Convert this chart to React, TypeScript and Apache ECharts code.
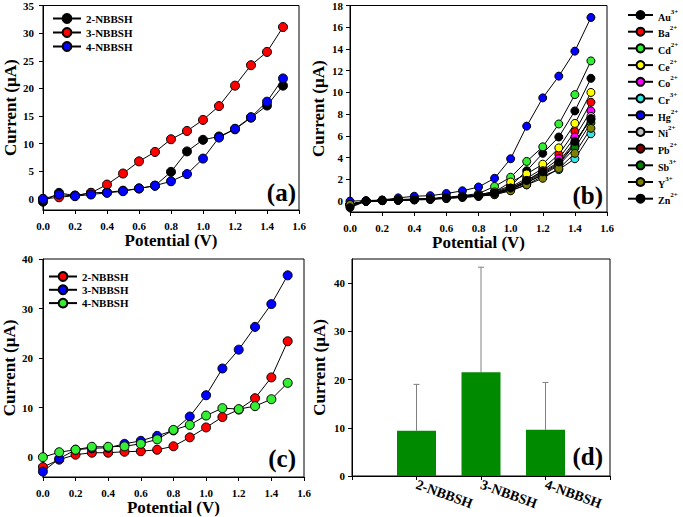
import React, { useEffect, useRef } from 'react';
import * as echarts from 'echarts';

const potentials = [0.0, 0.1, 0.2, 0.3, 0.4, 0.5, 0.6, 0.7, 0.8, 0.9, 1.0, 1.1, 1.2, 1.3, 1.4, 1.5];

// Panel (a)
const aNames = ['2-NBBSH', '3-NBBSH', '4-NBBSH'];
const aColors = ['#000000', '#ff0000', '#0000ff'];
const a2NBBSH = [-0.5, 1.1, 0.6, 1.1, 1.2, 1.5, 1.9, 2.4, 4.9, 8.6, 10.7, 11.3, 12.6, 14.7, 16.9, 20.5];
const a3NBBSH = [0.0, 0.3, 0.6, 1.1, 2.6, 4.6, 6.8, 8.5, 10.8, 12.3, 14.3, 16.8, 20.5, 24.2, 26.6, 31.1];
const a4NBBSH = [0.0, 0.8, 0.5, 0.8, 1.1, 1.4, 1.9, 2.4, 3.2, 4.5, 7.3, 11.1, 12.7, 14.8, 17.6, 21.8];
const aTicks = [0, 5, 10, 15, 20, 25, 30, 35];

// Panel (b)
const ionBases = ['Au', 'Ba', 'Cd', 'Ce', 'Co', 'Cr', 'Hg', 'Ni', 'Pb', 'Sb', 'Y', 'Zn'];
const ionCharges = ['3+', '2+', '2+', '2+', '2+', '3+', '2+', '2+', '2+', '3+', '3+', '2+'];
const ionColors = ['#000000', '#ff0000', '#33ee33', '#ffff00', '#ff00ff', '#33e6e6', '#0000ff', '#c0c0c0', '#800000', '#008000', '#808000', '#000000'];
const bAu = [-0.5, 0.0, 0.05, 0.1, 0.15, 0.2, 0.3, 0.4, 0.55, 0.9, 1.4, 2.8, 4.4, 5.9, 8.3, 11.3];
const bBa = [-0.3, 0.0, 0.05, 0.1, 0.15, 0.2, 0.3, 0.4, 0.5, 0.8, 1.3, 2.1, 3.0, 4.3, 6.4, 9.1];
const bCd = [-0.3, 0.0, 0.1, 0.15, 0.2, 0.25, 0.35, 0.5, 0.7, 1.35, 2.2, 3.65, 5.0, 7.1, 9.8, 12.9];
const bCe = [-0.3, 0.0, 0.05, 0.1, 0.15, 0.2, 0.3, 0.45, 0.6, 0.85, 1.75, 2.5, 3.4, 4.9, 7.15, 10.0];
const bCo = [-0.3, 0.0, 0.05, 0.1, 0.15, 0.2, 0.3, 0.4, 0.5, 0.75, 1.2, 1.9, 2.8, 3.9, 5.9, 8.3];
const bCr = [-0.3, 0.0, 0.05, 0.1, 0.1, 0.15, 0.25, 0.35, 0.45, 0.6, 1.0, 1.5, 2.3, 2.9, 3.9, 6.2];
const bHg = [0.0, 0.05, 0.1, 0.3, 0.45, 0.5, 0.7, 0.95, 1.3, 2.1, 3.9, 6.9, 9.5, 11.5, 13.8, 16.9];
const bNi = [-0.3, 0.0, 0.05, 0.1, 0.15, 0.2, 0.3, 0.4, 0.5, 0.7, 1.1, 1.7, 2.5, 3.4, 5.2, 7.8];
const bPb = [-0.4, 0.0, 0.05, 0.1, 0.15, 0.2, 0.3, 0.4, 0.5, 0.7, 1.1, 1.8, 2.6, 3.5, 5.3, 7.6];
const bSb = [-0.3, 0.0, 0.05, 0.1, 0.15, 0.2, 0.3, 0.4, 0.5, 0.65, 1.05, 1.7, 2.4, 3.3, 4.9, 7.2];
const bY = [-0.3, 0.0, 0.05, 0.1, 0.15, 0.2, 0.3, 0.4, 0.45, 0.6, 0.95, 1.5, 2.1, 3.0, 4.4, 6.7];
const bZn = [-0.6, 0.0, 0.05, 0.1, 0.15, 0.2, 0.25, 0.35, 0.45, 0.7, 1.2, 1.9, 2.7, 3.6, 5.5, 7.5];
const bSeries = [bAu, bBa, bCd, bCe, bCo, bCr, bHg, bNi, bPb, bSb, bY, bZn];
const bTicks = [0, 2, 4, 6, 8, 10, 12, 14, 16, 18];

// Panel (c)
const cNames = ['2-NBBSH', '3-NBBSH', '4-NBBSH'];
const cColors = ['#ff0000', '#0000ff', '#33ee33'];
const c2NBBSH = [-2.0, -0.5, 0.5, 0.9, 0.9, 1.1, 1.2, 1.5, 2.2, 4.0, 6.0, 8.1, 9.6, 11.9, 16.1, 23.4];
const c3NBBSH = [-2.9, -0.3, 1.5, 1.8, 1.9, 2.7, 3.3, 4.3, 5.4, 8.2, 12.5, 17.9, 21.7, 26.3, 30.9, 36.7];
const c4NBBSH = [0.0, 1.0, 1.5, 2.1, 2.1, 2.2, 2.7, 3.6, 5.5, 6.5, 8.4, 9.9, 9.7, 10.3, 11.7, 15.0];
const cTicks = [0, 10, 20, 30, 40];

// Panel (d)
const dCategories = ['2-NBBSH', '3-NBBSH', '4-NBBSH'];
const dMeans = [9.4, 21.5, 9.6];
const dUpper = [19.0, 43.3, 19.4];
const dTicks = [0, 10, 20, 30, 40];

const FONT = "'Liberation Serif', 'Times New Roman', serif";

function pairs(vals: number[]) {
  return potentials.map((p, i) => [p, vals[i]]);
}

function xAxisCfg(gridIndex: number) {
  return {
    type: 'value',
    gridIndex,
    min: 0,
    max: 1.6,
    interval: 0.2,
    name: 'Potential (V)',
    nameLocation: 'middle',
    nameGap: 22,
    nameTextStyle: { fontFamily: FONT, fontWeight: 'bold', fontSize: 17, color: '#000' },
    axisLine: { show: true, onZero: false, lineStyle: { color: '#000', width: 1 } },
    axisTick: { show: true, inside: false, length: 4, lineStyle: { color: '#000' } },
    axisLabel: {
      margin: 10,
      fontFamily: FONT,
      fontWeight: 'bold',
      fontSize: 11,
      color: '#000',
      formatter: (v: number) => v.toFixed(1),
    },
    splitLine: { show: false },
  };
}

function yAxisCfg(gridIndex: number, min: number, max: number, ticks: number[], nameGap: number, margin: number) {
  return {
    type: 'value',
    gridIndex,
    min,
    max,
    name: 'Current (μA)',
    nameLocation: 'middle',
    nameGap,
    nameTextStyle: { fontFamily: FONT, fontWeight: 'bold', fontSize: 17, color: '#000' },
    axisLine: { show: true, onZero: false, lineStyle: { color: '#000', width: 1 } },
    axisTick: { show: true, inside: false, length: 4, customValues: ticks, lineStyle: { color: '#000' } },
    axisLabel: {
      customValues: ticks,
      margin,
      fontFamily: FONT,
      fontWeight: 'bold',
      fontSize: 11,
      color: '#000',
    },
    splitLine: { show: false },
  };
}

function lineSeries(name: string, color: string, vals: number[], axisIndex: number, size: number) {
  return {
    type: 'line',
    name,
    xAxisIndex: axisIndex,
    yAxisIndex: axisIndex,
    data: pairs(vals),
    symbol: 'circle',
    symbolSize: size,
    itemStyle: { color, borderColor: '#000', borderWidth: 1 },
    lineStyle: { color: '#000', width: 1 },
    emphasis: { disabled: true },
  };
}

export default function App() {
  const ref = useRef<HTMLDivElement>(null);

  useEffect(() => {
    if (!ref.current) return;
    const chart = echarts.init(ref.current, null, { renderer: 'svg' });

    const gridStyle = { show: true, borderColor: '#000', borderWidth: 1, backgroundColor: 'transparent' };

    const series: any[] = [];
    [a2NBBSH, a3NBBSH, a4NBBSH].forEach((vals, i) => series.push(lineSeries(aNames[i], aColors[i], vals, 0, 9)));
    bSeries.forEach((vals, i) => series.push(lineSeries(ionBases[i] + ionCharges[i], ionColors[i], vals, 1, 8)));
    [c2NBBSH, c3NBBSH, c4NBBSH].forEach((vals, i) => series.push(lineSeries('c:' + cNames[i], cColors[i], vals, 2, 9)));

    series.push({
      type: 'bar',
      name: 'mean',
      xAxisIndex: 3,
      yAxisIndex: 3,
      data: dMeans.map((v, i) => [i + 1, v]),
      barWidth: 39,
      itemStyle: { color: '#008a00' },
      emphasis: { disabled: true },
    });
    series.push({
      type: 'custom',
      name: 'err',
      xAxisIndex: 3,
      yAxisIndex: 3,
      data: dMeans.map((v, i) => [i + 1, v, dUpper[i]]),
      encode: { x: 0, y: [1, 2] },
      z: 1,
      renderItem: (params: any, api: any) => {
        const x = api.value(0);
        const lo = api.coord([x, api.value(1)]);
        const hi = api.coord([x, api.value(2)]);
        const st = { stroke: '#808080', lineWidth: 1 };
        return {
          type: 'group',
          children: [
            { type: 'line', shape: { x1: lo[0], y1: lo[1], x2: hi[0], y2: hi[1] }, style: st },
            { type: 'line', shape: { x1: hi[0] - 3, y1: hi[1], x2: hi[0] + 3, y2: hi[1] }, style: st },
          ],
        };
      },
    });

    const legendText = { fontFamily: FONT, fontWeight: 'bold', fontSize: 11, color: '#000' };

    const option: any = {
      animation: false,
      backgroundColor: '#ffffff',
      grid: [
        { left: 43, top: 4, width: 256, height: 206, ...gridStyle },
        { left: 350, top: 4, width: 257, height: 208, ...gridStyle },
        { left: 38, top: 259, width: 266, height: 218, ...gridStyle },
        { left: 352, top: 259, width: 258, height: 217, ...gridStyle },
      ],
      xAxis: [
        xAxisCfg(0),
        xAxisCfg(1),
        xAxisCfg(2),
        {
          type: 'value',
          gridIndex: 3,
          min: 0,
          max: 4,
          interval: 1,
          axisLine: { show: true, onZero: false, lineStyle: { color: '#000', width: 1 } },
          axisTick: { show: true, length: 4, lineStyle: { color: '#000' } },
          axisLabel: {
            customValues: [1, 2, 3],
            rotate: -20,
            margin: 8,
            fontFamily: FONT,
            fontWeight: 'bold',
            fontSize: 14,
            color: '#000',
            formatter: (v: number) => dCategories[Math.round(v) - 1] || '',
          },
          splitLine: { show: false },
        },
      ],
      yAxis: [
        yAxisCfg(0, -2, 35, aTicks, 21, 9),
        yAxisCfg(1, -1, 18, bTicks, 23, 7),
        yAxisCfg(2, -4, 40, cTicks, 23, 10),
        yAxisCfg(3, 0, 45, dTicks, 24, 7),
      ],
      legend: [
        {
          data: aNames,
          orient: 'vertical',
          left: 52,
          top: 13,
          itemWidth: 28,
          itemHeight: 11,
          itemGap: 3,
          padding: 0,
          selectedMode: false,
          textStyle: legendText,
        },
        {
          data: ionBases.map((b, i) => b + ionCharges[i]),
          orient: 'vertical',
          left: 627,
          top: 8,
          itemWidth: 25,
          itemHeight: 10,
          itemGap: 2.7,
          padding: 0,
          selectedMode: false,
          formatter: (name: string) => {
            const i = ionBases.findIndex((b, k) => b + ionCharges[k] === name);
            return '{b|' + ionBases[i] + '}{s|' + ionCharges[i] + '}';
          },
          textStyle: {
            ...legendText,
            fontSize: 10,
            rich: {
              b: { fontFamily: FONT, fontWeight: 'bold', fontSize: 10, lineHeight: 14, verticalAlign: 'bottom', color: '#000' },
              s: { fontFamily: FONT, fontWeight: 'bold', fontSize: 7, lineHeight: 8, verticalAlign: 'top', color: '#000' },
            },
          },
        },
        {
          data: cNames.map((n) => 'c:' + n),
          orient: 'vertical',
          left: 48,
          top: 271,
          itemWidth: 28,
          itemHeight: 11,
          itemGap: 2.3,
          padding: 0,
          selectedMode: false,
          formatter: (name: string) => name.replace(/^c:/, ''),
          textStyle: legendText,
        },
      ],
      graphic: [
        { type: 'text', right: 683 - 296, top: 180, style: { text: '(a)', font: `bold 25px ${FONT}`, fill: '#000' } },
        { type: 'text', right: 683 - 603, top: 183, style: { text: '(b)', font: `bold 25px ${FONT}`, fill: '#000' } },
        { type: 'text', right: 683 - 296, top: 446, style: { text: '(c)', font: `bold 25px ${FONT}`, fill: '#000' } },
        { type: 'text', right: 683 - 603, top: 444, style: { text: '(d)', font: `bold 25px ${FONT}`, fill: '#000' } },
      ],
      series,
    };

    chart.setOption(option);
    return () => chart.dispose();
  }, []);

  return (
    <div
      ref={ref}
      style={{ position: 'fixed', left: 0, top: 0, width: 683, height: 517, background: '#fff' }}
    />
  );
}
